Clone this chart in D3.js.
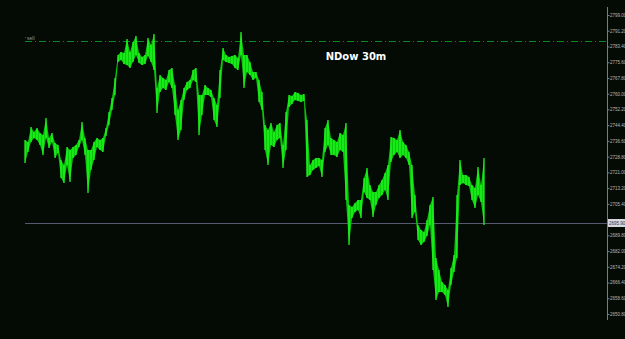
<!DOCTYPE html>
<html>
<head>
<meta charset="utf-8">
<script src="https://cdn.jsdelivr.net/npm/d3@7"></script>
<style>
  html, body { margin: 0; padding: 0; background: #040b05; }
</style>
</head>
<body>
<div id="canvas"></div>
<script>
"use strict"

/* Configuration variables: drawing */
let svgWidth = 625;
let svgHeight = 339;
let plotLeft = 25;
let plotRight = 484;
let axisX = 607;

/* NDow 30m bars - highs and lows */
let highs = [2737.0, 2736.1, 2743.5, 2741.0, 2743.0, 2740.5, 2739.5, 2748.0, 2738.0, 2740.5,
    2735.6, 2734.6, 2727.1, 2724.7, 2733.6, 2732.1, 2733.6, 2734.6, 2737.0, 2746.0,
    2738.0, 2732.1, 2732.1, 2736.1, 2738.0, 2737.0, 2738.0, 2743.0, 2750.9, 2757.9,
    2767.8, 2779.2, 2780.7, 2780.2, 2787.1, 2780.7, 2785.6, 2788.6, 2780.2, 2778.2,
    2779.2, 2787.6, 2784.1, 2789.6, 2762.8, 2769.3, 2767.8, 2766.8, 2771.7, 2772.7,
    2764.3, 2751.9, 2756.9, 2762.8, 2765.8, 2766.8, 2771.7, 2772.7, 2759.4, 2759.4,
    2764.3, 2762.8, 2761.8, 2757.9, 2754.4, 2771.7, 2782.6, 2779.2, 2778.2, 2778.7,
    2779.2, 2777.7, 2790.6, 2779.2, 2779.2, 2775.7, 2770.8, 2770.8, 2766.8, 2760.8,
    2744.5, 2742.0, 2745.5, 2741.0, 2744.5, 2745.5, 2734.6, 2750.9, 2759.4, 2758.9,
    2760.8, 2760.3, 2759.4, 2759.8, 2747.0, 2724.7, 2727.1, 2728.1, 2728.1, 2727.1,
    2743.0, 2747.0, 2738.0, 2737.0, 2736.1, 2740.5, 2739.5, 2745.5, 2704.8, 2703.8,
    2705.8, 2707.3, 2707.3, 2718.2, 2723.2, 2714.7, 2711.3, 2711.3, 2714.7, 2717.2,
    2720.7, 2724.7, 2738.5, 2738.0, 2737.0, 2742.0, 2736.1, 2734.6, 2731.1, 2724.7,
    2709.8, 2694.9, 2692.4, 2691.4, 2697.4, 2704.8, 2708.8, 2678.6, 2672.6, 2666.7,
    2665.2, 2662.7, 2673.6, 2680.0, 2709.8, 2727.1, 2719.7, 2719.7, 2718.7, 2714.7,
    2713.2, 2723.7, 2714.7, 2728.1];

let lows = [2725.6, 2731.1, 2736.1, 2738.0, 2737.0, 2734.6, 2729.6, 2738.0, 2733.1, 2736.1,
    2728.1, 2730.6, 2718.2, 2715.7, 2724.7, 2716.2, 2728.1, 2729.6, 2733.6, 2737.0,
    2729.6, 2710.8, 2722.2, 2727.1, 2733.6, 2732.1, 2731.1, 2739.0, 2744.5, 2751.9,
    2759.4, 2775.7, 2776.7, 2774.7, 2774.2, 2772.7, 2775.7, 2779.2, 2775.2, 2774.2,
    2774.7, 2778.7, 2775.7, 2771.7, 2750.4, 2760.8, 2762.8, 2761.8, 2765.8, 2762.8,
    2749.4, 2737.0, 2742.0, 2756.9, 2761.8, 2762.8, 2766.8, 2765.8, 2739.5, 2749.4,
    2759.4, 2759.4, 2758.4, 2747.0, 2743.5, 2757.9, 2776.7, 2775.7, 2775.2, 2774.7,
    2772.7, 2771.7, 2779.2, 2762.8, 2770.8, 2769.3, 2766.8, 2767.8, 2755.9, 2751.9,
    2732.1, 2724.7, 2734.6, 2733.6, 2737.0, 2738.0, 2723.2, 2732.1, 2753.4, 2754.9,
    2756.9, 2756.4, 2755.9, 2756.4, 2718.7, 2719.7, 2722.2, 2723.2, 2724.2, 2718.7,
    2731.1, 2734.6, 2729.6, 2729.6, 2728.6, 2732.1, 2731.1, 2707.3, 2685.0, 2698.4,
    2701.4, 2702.3, 2698.4, 2711.3, 2708.3, 2707.3, 2698.9, 2704.8, 2708.3, 2709.8,
    2712.3, 2707.3, 2726.1, 2729.6, 2731.1, 2728.1, 2729.6, 2728.1, 2724.7, 2698.4,
    2701.4, 2687.5, 2685.0, 2686.5, 2689.5, 2694.9, 2672.6, 2657.7, 2661.7, 2661.7,
    2660.2, 2654.3, 2665.2, 2671.6, 2678.6, 2714.7, 2715.7, 2714.7, 2714.2, 2707.3,
    2703.3, 2709.8, 2706.3, 2694.9];

/* Price scale labels on the right */
let tickLabels = ["2799.00", "2791.20", "2783.40", "2775.60", "2767.80", "2760.00",
    "2752.20", "2744.40", "2736.60", "2728.80", "2721.00", "2713.20", "2705.40",
    "2697.60", "2689.80", "2682.00", "2674.20", "2666.40", "2658.60", "2650.80"];

let sellLevel = 2786.1;
let lastPrice = 2695.9;
let lastLabel = "2695.90";
let chartTitle = "NDow 30m";

/* Create drawing canvas */
let svg = d3.select("#canvas")
    .append("svg")
    .attr("width", svgWidth)
    .attr("height", svgHeight)
    .style("display", "block");

svg.append("rect")
    .attr("width", svgWidth)
    .attr("height", svgHeight)
    .attr("fill", "#040b05");

/* Scales */
let tickValues = tickLabels.map(Number);

let xScale = d3.scaleLinear()
    .domain([0, highs.length - 1])
    .range([plotLeft, plotRight]);

let yScale = d3.scaleLinear()
    .domain([d3.min(tickValues), d3.max(tickValues)])
    .range([314, 15]);

let bars = highs.map(function (h, i) {
    return { i: i, high: h, low: lows[i] };
});

/* Sell level, dash-dot */
svg.append("line")
    .attr("x1", plotLeft)
    .attr("x2", axisX)
    .attr("y1", Math.round(yScale(sellLevel)) + 0.5)
    .attr("y2", Math.round(yScale(sellLevel)) + 0.5)
    .attr("stroke", "#0e8a1c")
    .attr("stroke-width", 1)
    .attr("stroke-dasharray", "7,3,1,3");

svg.append("rect")
    .attr("x", plotLeft)
    .attr("y", yScale(sellLevel) - 4)
    .attr("width", 1)
    .attr("height", 1)
    .attr("fill", "#c02020");

svg.append("text")
    .attr("x", plotLeft + 2)
    .attr("y", yScale(sellLevel) - 1.5)
    .attr("font-family", "Liberation Sans, Arial, sans-serif")
    .attr("font-size", "5px")
    .attr("fill", "#9a9a9a")
    .text("sell");

/* Last price line */
svg.append("line")
    .attr("x1", plotLeft)
    .attr("x2", axisX)
    .attr("y1", Math.round(yScale(lastPrice)) + 0.5)
    .attr("y2", Math.round(yScale(lastPrice)) + 0.5)
    .attr("stroke", "#565a70")
    .attr("stroke-width", 1);

/* Body of the bars as a filled band, then the bars themselves */
let band = d3.area()
    .x(function (d) { return xScale(d.i); })
    .y0(function (d) { return yScale(d.low); })
    .y1(function (d) { return yScale(d.high); });

svg.append("path")
    .datum(bars)
    .attr("d", band)
    .attr("fill", "#0bc80b");

svg.selectAll(".bar")
    .data(bars)
    .join("line")
    .attr("class", "bar")
    .attr("x1", function (d) { return xScale(d.i); })
    .attr("x2", function (d) { return xScale(d.i); })
    .attr("y1", function (d) { return yScale(d.high); })
    .attr("y2", function (d) { return yScale(d.low); })
    .attr("stroke", "#22ff22")
    .attr("stroke-width", 1.2);

/* Price axis */
svg.append("line")
    .attr("x1", axisX + 0.5)
    .attr("x2", axisX + 0.5)
    .attr("y1", 7)
    .attr("y2", 320)
    .attr("stroke", "#7c7c7c");

let yAxis = d3.axisRight(yScale)
    .tickValues(tickValues)
    .tickFormat(function (d) {
        /* the last price box hides the label under it */
        return Math.abs(yScale(d) - yScale(lastPrice)) < 5 ? "" : d3.format(".2f")(d);
    })
    .tickSize(2)
    .tickPadding(0.5);

let axisG = svg.append("g")
    .attr("transform", "translate(" + (axisX + 0.5) + ",0)")
    .call(yAxis);

axisG.select(".domain").remove();
axisG.selectAll(".tick line").attr("stroke", "#7c7c7c");
axisG.selectAll(".tick text")
    .attr("fill", "#b8b8b8")
    .attr("font-family", "Liberation Sans, Arial, sans-serif")
    .attr("font-size", "4.5px");

/* Last price box on the axis */
svg.append("rect")
    .attr("x", axisX + 1)
    .attr("y", yScale(lastPrice) - 4)
    .attr("width", svgWidth - axisX - 1)
    .attr("height", 8)
    .attr("fill", "#d8d8e0");

svg.append("text")
    .attr("x", axisX + 2)
    .attr("y", yScale(lastPrice) + 1.8)
    .attr("font-family", "Liberation Sans, Arial, sans-serif")
    .attr("font-size", "4.5px")
    .attr("fill", "#303040")
    .text(lastLabel);

/* Title */
svg.append("text")
    .attr("x", 356)
    .attr("y", 60)
    .attr("text-anchor", "middle")
    .attr("font-family", "DejaVu Sans, sans-serif")
    .attr("font-weight", "bold")
    .attr("font-size", "10px")
    .attr("fill", "#ffffff")
    .text(chartTitle);
</script>
</body>
</html>
